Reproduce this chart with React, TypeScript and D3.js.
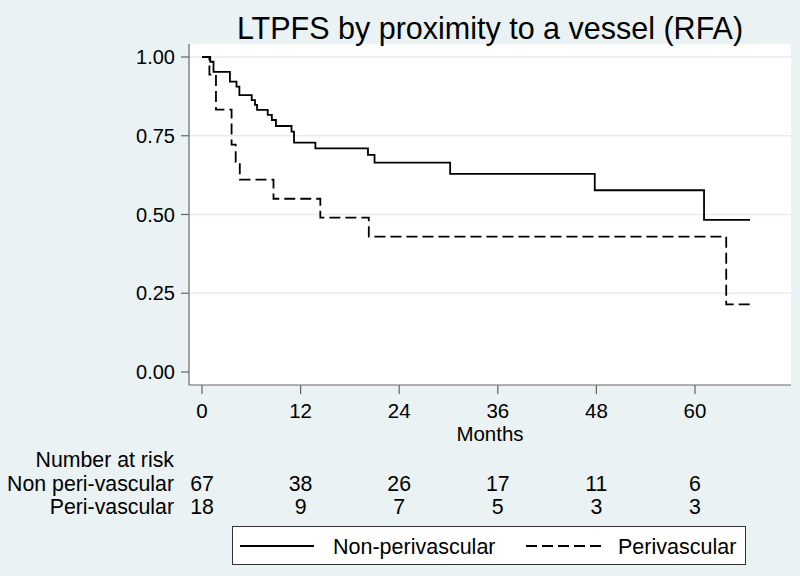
import React from "react";
import * as d3 from "d3";

const title = "LTPFS by proximity to a vessel (RFA)";
const xTicks = [0, 12, 24, 36, 48, 60];
const yTicks = [0, 0.25, 0.5, 0.75, 1];

const nonPeriTimes = [0, 1.0, 1.4, 3.4, 4.2, 4.55, 6.05, 6.45, 6.7, 8.0, 8.5, 9.0, 10.9, 11.2, 13.8, 20.2, 21.0, 30.2, 47.8, 61.1, 66.7];
const nonPeriSurv = [1, 0.985, 0.953, 0.922, 0.906, 0.879, 0.863, 0.848, 0.832, 0.816, 0.8, 0.781, 0.763, 0.728, 0.71, 0.689, 0.665, 0.629, 0.577, 0.483, 0.483];
const periTimes = [0, 0.9, 1.7, 3.6, 4.1, 4.6, 8.7, 14.4, 20.3, 63.8, 66.7];
const periSurv = [1, 0.944, 0.833, 0.722, 0.667, 0.611, 0.55, 0.49, 0.43, 0.215, 0.215];

const riskLabels = ["Non peri-vascular", "Peri-vascular"];
const nonPeriRisk = [67, 38, 26, 17, 11, 6];
const periRisk = [18, 9, 7, 5, 3, 3];
const legendLabels = ["Non-perivascular", "Perivascular"];

const W = 800;
const H = 576;
const BG = "#eaf2f3";
const FONT = "'Liberation Sans', Arial, sans-serif";

export default function App() {
  const x = d3.scaleLinear().domain([0, 60]).range([202, 695]);
  const y = d3.scaleLinear().domain([0, 1]).range([372, 57]);
  const line = d3
    .line<[number, number]>()
    .x((d) => x(d[0]))
    .y((d) => y(d[1]))
    .curve(d3.curveStepAfter);
  const nonPeri = nonPeriTimes.map((t, i) => [t, nonPeriSurv[i]] as [number, number]);
  const peri = periTimes.map((t, i) => [t, periSurv[i]] as [number, number]);
  const fmt = d3.format(".2f");

  const plotL = 189, plotR = 791, plotT = 44, plotB = 385;

  return (
    <svg
      width={W}
      height={H}
      style={{ position: "absolute", left: 0, top: 0 }}
      fontFamily={FONT}
    >
      <rect width={W} height={H} fill={BG} />
      <rect x={plotL} y={plotT} width={plotR - plotL} height={plotB - plotT} fill="#fff" />
      {yTicks.filter((v) => v > 0).map((v) => (
        <line key={"g" + v} x1={plotL} x2={plotR} y1={y(v)} y2={y(v)} stroke="#e3eeef" strokeWidth={1.5} />
      ))}
      <text x={(plotL + plotR) / 2} y={39} textAnchor="middle" fontSize={30.5} fill="#000">
        {title}
      </text>
      {/* y axis */}
      <line x1={plotL} x2={plotL} y1={plotT} y2={plotB} stroke="#666" strokeWidth={1.2} />
      {yTicks.map((v) => (
        <g key={"y" + v}>
          <line x1={181} x2={plotL} y1={y(v)} y2={y(v)} stroke="#666" strokeWidth={1.2} />
          <text x={175} y={y(v)} dy="0.36em" textAnchor="end" fontSize={20} fill="#000">
            {fmt(v)}
          </text>
        </g>
      ))}
      {/* x axis */}
      <line x1={plotL} x2={plotR} y1={plotB} y2={plotB} stroke="#666" strokeWidth={1.2} />
      {xTicks.map((v) => (
        <g key={"x" + v}>
          <line x1={x(v)} x2={x(v)} y1={plotB} y2={394} stroke="#666" strokeWidth={1.2} />
          <text x={x(v)} y={417.5} textAnchor="middle" fontSize={20.5} fill="#000">
            {v}
          </text>
        </g>
      ))}
      <text x={(plotL + plotR) / 2} y={441} textAnchor="middle" fontSize={20.5} fill="#000">
        Months
      </text>
      {/* curves */}
      <path d={line(nonPeri) || ""} fill="none" stroke="#000" strokeWidth={1.8} />
      <path d={line(peri) || ""} fill="none" stroke="#000" strokeWidth={1.8} strokeDasharray="11,5" />
      {/* number at risk */}
      <text x={174} y={467} textAnchor="end" fontSize={21.3} fill="#000">Number at risk</text>
      <text x={174} y={491} textAnchor="end" fontSize={21.3} fill="#000">{riskLabels[0]}</text>
      <text x={174} y={514} textAnchor="end" fontSize={21.3} fill="#000">{riskLabels[1]}</text>
      {xTicks.map((v, i) => (
        <g key={"r" + v}>
          <text x={x(v)} y={491} textAnchor="middle" fontSize={21.3} fill="#000">{nonPeriRisk[i]}</text>
          <text x={x(v)} y={514} textAnchor="middle" fontSize={21.3} fill="#000">{periRisk[i]}</text>
        </g>
      ))}
      {/* legend */}
      <rect x={232.5} y={526.5} width={513} height={38} fill="#fff" stroke="#333" strokeWidth={1} />
      <line x1={240} x2={314} y1={546} y2={546} stroke="#000" strokeWidth={1.8} />
      <text x={333} y={554} fontSize={21.5} fill="#000">{legendLabels[0]}</text>
      <line x1={526} x2={606} y1={546} y2={546} stroke="#000" strokeWidth={1.8} strokeDasharray="11,5" />
      <text x={618} y={554} fontSize={21.5} fill="#000">{legendLabels[1]}</text>
    </svg>
  );
}
